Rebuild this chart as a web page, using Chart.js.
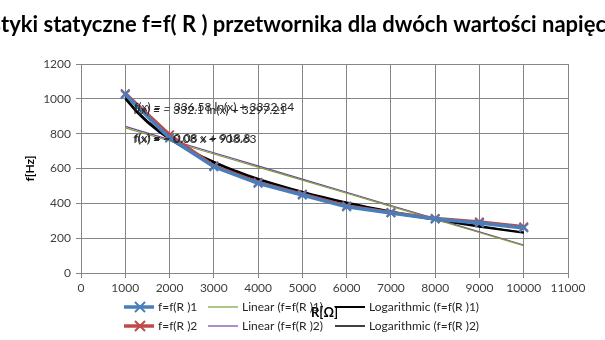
<!DOCTYPE html>
<html lang="pl">
<head>
<meta charset="utf-8">
<script src="https://cdn.jsdelivr.net/npm/chart.js"></script>
<style>
  html, body { margin: 0; padding: 0; background: #fff; }
  #wrap { width: 605px; height: 340px; }
</style>
</head>
<body>
<div id="wrap"><canvas id="myChart" width="605" height="340"></canvas></div>
<script>
    // dane
    const rValues = [1000, 2000, 3000, 4000, 5000, 6000, 7000, 8000, 9000, 10000];
    const f1 = [1025, 775, 610, 515, 448, 380, 345, 310, 287, 259];
    const f2 = [1030, 793, 615, 520, 452, 385, 347, 313, 293, 265];
    const xTicks = [0, 11000, 1000];   // min, max, krok
    const yTicks = [0, 1200, 200];
    const seriesNames = ['f=f(R )1', 'f=f(R )2'];
    const titleText = 'Charakterystyki statyczne f=f( R ) przetwornika dla dwóch wartości napięcia';
    const eqLog = ['f(x) = − 332.1 ln(x) + 3297.21', 'f(x) = − 336.58 ln(x) + 3332.84'];
    const eqLin = ['f(x) = − 0.08 x + 908.63', 'f(x) = − 0.08 x + 918.8'];

    const FONT = 'Lato, "Liberation Sans", sans-serif';

    // regresja liniowa i logarytmiczna (linie trendu jak w Excelu)
    function fit(xs, ys) {
        const n = xs.length;
        const mx = xs.reduce((a, b) => a + b, 0) / n;
        const my = ys.reduce((a, b) => a + b, 0) / n;
        let sxy = 0, sxx = 0;
        for (let i = 0; i < n; i++) {
            sxy += (xs[i] - mx) * (ys[i] - my);
            sxx += (xs[i] - mx) * (xs[i] - mx);
        }
        const a = sxy / sxx;
        return { a: a, b: my - a * mx };
    }
    function linTrend(ys) {
        const p = fit(rValues, ys);
        return rValues.map(x => ({ x: x, y: p.a * x + p.b }));
    }
    function logTrend(ys) {
        const p = fit(rValues.map(x => Math.log(x)), ys);
        const pts = [];
        for (let i = 0; i < rValues.length - 1; i++) {
            for (let k = 0; k < 4; k++) {
                const x = rValues[i] + k * (rValues[i + 1] - rValues[i]) / 4;
                pts.push({ x: x, y: p.a * Math.log(x) + p.b });
            }
        }
        const last = rValues[rValues.length - 1];
        pts.push({ x: last, y: p.a * Math.log(last) + p.b });
        return pts;
    }
    const toXY = ys => rValues.map((x, i) => ({ x: x, y: ys[i] }));

    const titlePlugin = {
        id: 'titlePlugin',
        afterDraw(chart) {
            const ctx = chart.ctx;
            ctx.save();
            ctx.font = 'bold 22px ' + FONT;
            ctx.fillStyle = '#000';
            ctx.textBaseline = 'alphabetic';
            const pre = ctx.measureText('Charakterys').width;
            ctx.fillText(titleText, 1 - pre, 32);
            ctx.restore();
        }
    };

    const eqPlugin = {
        id: 'eqPlugin',
        afterDatasetsDraw(chart) {
            const ctx = chart.ctx;
            const xs = chart.scales.x, ys = chart.scales.y;
            ctx.save();
            ctx.font = '12px ' + FONT;
            ctx.fillStyle = '#262626';
            ctx.textBaseline = 'middle';
            ctx.fillText(eqLog[0], xs.getPixelForValue(1180), ys.getPixelForValue(935));
            ctx.fillText(eqLog[1], xs.getPixelForValue(1200), ys.getPixelForValue(952));
            ctx.fillText(eqLin[0], xs.getPixelForValue(1180), ys.getPixelForValue(768));
            ctx.fillText(eqLin[1], xs.getPixelForValue(1200), ys.getPixelForValue(772));
            ctx.restore();
        }
    };

    const legendPlugin = {
        id: 'legendPlugin',
        afterDraw(chart) {
            const ctx = chart.ctx;
            const ds = chart.data.datasets;
            const cols = [124, 208, 335];
            const rows = [307, 326];
            ctx.save();
            ctx.font = '12px ' + FONT;
            ctx.textBaseline = 'middle';
            const order = [[0, 2, 4], [1, 3, 5]];
            order.forEach((row, r) => {
                row.forEach((di, c) => {
                    const d = ds[di];
                    const x0 = cols[c], y = rows[r];
                    ctx.strokeStyle = d.borderColor;
                    ctx.lineWidth = d.borderWidth;
                    ctx.beginPath();
                    ctx.moveTo(x0, y);
                    ctx.lineTo(x0 + 30, y);
                    ctx.stroke();
                    if (d.pointRadius > 0) {
                        const cx = x0 + 16, s = 5;
                        ctx.lineWidth = 2;
                        ctx.beginPath();
                        ctx.moveTo(cx - s, y - s); ctx.lineTo(cx + s, y + s);
                        ctx.moveTo(cx + s, y - s); ctx.lineTo(cx - s, y + s);
                        ctx.stroke();
                    }
                    ctx.fillStyle = '#262626';
                    ctx.fillText(d.label, x0 + 34, y);
                });
            });
            ctx.restore();
        }
    };

    const ctx = document.getElementById('myChart');
    const myChart = new Chart(ctx, {
        type: 'line',
        data: {
            datasets: [
                {
                    label: seriesNames[0],
                    data: toXY(f1),
                    borderColor: '#4a7ebb',
                    backgroundColor: '#4a7ebb',
                    borderWidth: 3.5,
                    pointStyle: 'crossRot',
                    pointRadius: 6,
                    pointBorderWidth: 2,
                    pointBorderColor: '#4a7ebb'
                },
                {
                    label: seriesNames[1],
                    data: toXY(f2),
                    borderColor: '#be4b48',
                    backgroundColor: '#be4b48',
                    borderWidth: 3.5,
                    pointStyle: 'crossRot',
                    pointRadius: 6,
                    pointBorderWidth: 2,
                    pointBorderColor: '#be4b48'
                },
                {
                    label: 'Linear (' + seriesNames[0] + ')',
                    data: linTrend(f1),
                    borderColor: '#7f9f3a',
                    borderWidth: 1.2,
                    pointRadius: 0
                },
                {
                    label: 'Linear (' + seriesNames[1] + ')',
                    data: linTrend(f2),
                    borderColor: '#7046a0',
                    borderWidth: 1.2,
                    pointRadius: 0
                },
                {
                    label: 'Logarithmic (' + seriesNames[0] + ')',
                    data: logTrend(f1),
                    borderColor: '#000000',
                    borderWidth: 2,
                    pointRadius: 0
                },
                {
                    label: 'Logarithmic (' + seriesNames[1] + ')',
                    data: logTrend(f2),
                    borderColor: '#000000',
                    borderWidth: 1.5,
                    pointRadius: 0
                }
            ]
        },
        options: {
            responsive: false,
            animation: false,
            layout: { padding: { top: 64, right: 37, left: 0, bottom: 0 } },
            plugins: {
                legend: { display: false },
                tooltip: { enabled: false }
            },
            scales: {
                x: {
                    type: 'linear',
                    min: xTicks[0],
                    max: xTicks[1],
                    afterFit: s => { s.height = 67; },
                    ticks: { stepSize: xTicks[2], padding: 3, color: '#404040', font: { family: FONT, size: 12 },
                             callback: v => String(v) },
                    grid: { color: '#868686', tickLength: 5 },
                    border: { color: '#868686' },
                    title: { display: true, text: 'R[Ω]', color: '#000', padding: { top: 0, bottom: 19 }, font: { family: FONT, size: 13, weight: 'bold' } }
                },
                y: {
                    min: yTicks[0],
                    max: yTicks[1],
                    afterFit: s => { s.width = 81; },
                    ticks: { stepSize: yTicks[2], padding: 5, color: '#404040', font: { family: FONT, size: 12 },
                             callback: v => String(v) },
                    grid: { color: '#868686', tickLength: 5 },
                    border: { color: '#868686' },
                    title: { display: true, text: 'f[Hz]', color: '#000', padding: { top: 23, bottom: 0 }, font: { family: FONT, size: 12, weight: 'bold' } }
                }
            }
        },
        plugins: [eqPlugin, titlePlugin, legendPlugin]
    });
</script>
</body>
</html>
